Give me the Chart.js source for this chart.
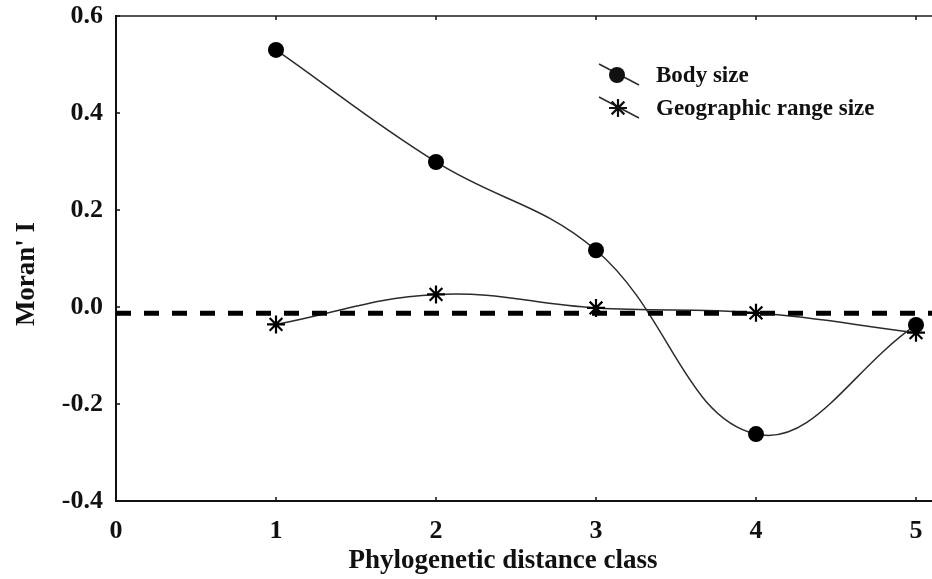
<!DOCTYPE html>
<html>
<head>
<meta charset="utf-8">
<script src="https://cdn.jsdelivr.net/npm/chart.js@4.4.1/dist/chart.umd.min.js"></script>
<style>
  html, body { margin: 0; padding: 0; background: #ffffff; }
  #wrap { width: 932px; height: 579px; }
</style>
</head>
<body>
<div id="wrap"><canvas id="chart" width="932" height="579"></canvas></div>
<script>
// Moran's I correlogram across phylogenetic distance classes
const distanceClasses = [1, 2, 3, 4, 5];
const bodySize = [0.530, 0.299, 0.117, -0.262, -0.037];
const geoRangeSize = [-0.036, 0.026, -0.002, -0.012, -0.053];
const expectedLevel = [-0.013, -0.013];
const expectedSpan = [0, 5.1];
const xTickValues = [0, 1, 2, 3, 4, 5];
const yTickValues = [-0.4, -0.2, 0.0, 0.2, 0.4, 0.6];
const seriesNames = ['Body size', 'Geographic range size'];
const xTitle = 'Phylogenetic distance class';
const yTitle = "Moran' I";

const SERIF = '"Liberation Serif", "Times New Roman", serif';
const INK = '#111111';
const CURVE = '#2b2b2b';

function toPoints(xs, ys) {
  return xs.map((x, i) => ({ x: x, y: ys[i] }));
}

function drawStar(ctx, x, y, r, width) {
  ctx.save();
  ctx.strokeStyle = INK;
  ctx.lineWidth = width;
  ctx.beginPath();
  for (let k = 0; k < 4; k++) {
    const a = k * Math.PI / 4;
    ctx.moveTo(x - r * Math.cos(a), y - r * Math.sin(a));
    ctx.lineTo(x + r * Math.cos(a), y + r * Math.sin(a));
  }
  ctx.stroke();
  ctx.restore();
}

// Axes box (left, top, bottom) with inward tick marks
const framePlugin = {
  id: 'frame',
  beforeDatasetsDraw(chart) {
    const { ctx, chartArea: a, scales } = chart;
    ctx.save();
    ctx.lineCap = 'butt';
    // top edge
    ctx.strokeStyle = '#555555';
    ctx.lineWidth = 2;
    ctx.beginPath();
    ctx.moveTo(a.left, a.top);
    ctx.lineTo(a.right, a.top);
    ctx.stroke();
    // left and bottom edges
    ctx.strokeStyle = INK;
    ctx.beginPath();
    ctx.moveTo(a.left, a.top - 1);
    ctx.lineTo(a.left, a.bottom);
    ctx.lineTo(a.right, a.bottom);
    ctx.stroke();
    // tick marks
    ctx.lineWidth = 1.5;
    ctx.beginPath();
    scales.x.ticks.forEach(t => {
      const px = scales.x.getPixelForValue(t.value);
      ctx.moveTo(px, a.bottom);
      ctx.lineTo(px, a.bottom - 4);
      ctx.moveTo(px, a.top);
      ctx.lineTo(px, a.top + 4);
    });
    scales.y.ticks.forEach(t => {
      const py = scales.y.getPixelForValue(t.value);
      ctx.moveTo(a.left, py);
      ctx.lineTo(a.left + 4, py);
    });
    ctx.stroke();
    ctx.restore();
  }
};

// Axis titles and in-plot legend
const annotationPlugin = {
  id: 'annotations',
  afterDraw(chart) {
    const { ctx, chartArea: a } = chart;
    ctx.save();
    ctx.fillStyle = INK;
    ctx.font = 'bold 27px ' + SERIF;
    ctx.textAlign = 'center';
    ctx.textBaseline = 'middle';
    ctx.fillText(xTitle, a.left + 387, a.bottom + 60);
    ctx.save();
    ctx.translate(27, a.top + 258);
    ctx.rotate(-Math.PI / 2);
    ctx.fillText(yTitle, 0, 0);
    ctx.restore();

    // legend
    const lx = a.left + 501;
    const rows = [a.top + 59, a.top + 92];
    ctx.font = 'bold 23px ' + SERIF;
    ctx.textAlign = 'left';
    rows.forEach((ry, i) => {
      ctx.strokeStyle = CURVE;
      ctx.lineWidth = 1.5;
      ctx.beginPath();
      ctx.moveTo(lx - 18, ry - 11);
      ctx.lineTo(lx + 22, ry + 10);
      ctx.stroke();
      if (i === 0) {
        ctx.fillStyle = INK;
        ctx.beginPath();
        ctx.arc(lx, ry, 8, 0, Math.PI * 2);
        ctx.fill();
      } else {
        drawStar(ctx, lx + 1, ry, 9, 2.2);
      }
      ctx.fillStyle = INK;
      ctx.fillText(seriesNames[i], lx + 39, ry + 1);
    });
    ctx.restore();
  }
};

new Chart(document.getElementById('chart'), {
  type: 'line',
  data: {
    datasets: [
      {
        label: 'expected',
        data: toPoints(expectedSpan, expectedLevel),
        borderColor: '#000000',
        borderWidth: 5,
        borderDash: [15, 13],
        pointRadius: 0,
        tension: 0,
        order: 0
      },
      {
        label: seriesNames[0],
        data: toPoints(distanceClasses, bodySize),
        borderColor: CURVE,
        borderWidth: 1.5,
        tension: 0.4,
        pointStyle: 'circle',
        pointRadius: 8,
        pointBackgroundColor: '#000000',
        pointBorderColor: '#000000',
        pointBorderWidth: 0,
        order: 1
      },
      {
        label: seriesNames[1],
        data: toPoints(distanceClasses, geoRangeSize),
        borderColor: CURVE,
        borderWidth: 1.5,
        tension: 0.4,
        pointStyle: 'star',
        pointRadius: 9,
        pointBackgroundColor: '#000000',
        pointBorderColor: '#000000',
        pointBorderWidth: 2.2,
        order: 2
      }
    ]
  },
  options: {
    responsive: false,
    animation: false,
    devicePixelRatio: 1,
    clip: false,
    layout: { autoPadding: false, padding: { top: 16, right: 0, bottom: 0, left: 0 } },
    plugins: {
      legend: { display: false },
      tooltip: { enabled: false }
    },
    scales: {
      x: {
        type: 'linear',
        min: 0,
        max: expectedSpan[1],
        grid: { display: false, drawTicks: false },
        border: { display: false },
        afterBuildTicks: s => { s.ticks = xTickValues.map(v => ({ value: v })); },
        afterFit: s => {
          s.height = 78;
          s.paddingLeft = 0;
          s.paddingRight = 0;
        },
        ticks: {
          padding: 15,
          color: INK,
          font: { family: SERIF, size: 26, weight: 'bold' },
          callback: v => String(v)
        }
      },
      y: {
        type: 'linear',
        min: yTickValues[0],
        max: yTickValues[yTickValues.length - 1],
        grid: { display: false, drawTicks: false },
        border: { display: false },
        afterBuildTicks: s => { s.ticks = yTickValues.map(v => ({ value: v })); },
        afterFit: s => {
          s.width = 116;
          s.paddingTop = 0;
          s.paddingBottom = 0;
        },
        ticks: {
          padding: 13,
          color: INK,
          font: { family: SERIF, size: 26, weight: 'bold' },
          callback: v => Number(v).toFixed(1)
        }
      }
    }
  },
  plugins: [framePlugin, annotationPlugin]
});
</script>
</body>
</html>
